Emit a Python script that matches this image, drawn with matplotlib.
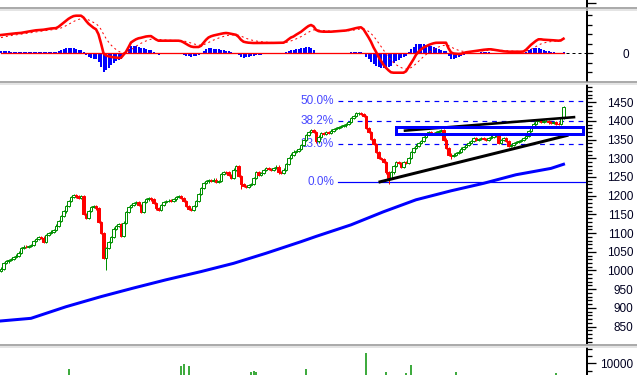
import numpy as np
import matplotlib
matplotlib.use('Agg')
import matplotlib.pyplot as plt
from matplotlib.patches import Rectangle
from matplotlib.lines import Line2D
from matplotlib.ticker import MultipleLocator, FixedLocator

plt.rcParams['font.family'] = ['Liberation Sans', 'DejaVu Sans']

# daily closes (one per candle)
close = [1005, 1020, 1024, 1027, 1030, 1035, 1040, 1048, 1060, 1064,
         1062, 1066, 1068, 1078, 1084, 1090, 1088, 1077, 1094, 1100,
         1104, 1108, 1120, 1133, 1146, 1158, 1172, 1186, 1196, 1202,
         1198, 1194, 1200, 1150, 1141, 1160, 1170, 1172, 1166, 1130,
         1100, 1034, 1060, 1077, 1090, 1112, 1118, 1125, 1092, 1128,
         1157, 1170, 1176, 1180, 1184, 1176, 1156, 1184, 1190, 1193,
         1190, 1180, 1166, 1162, 1176, 1184, 1185, 1187, 1186, 1190,
         1196, 1200, 1194, 1186, 1172, 1165, 1162, 1172, 1186, 1204,
         1220, 1234, 1238, 1242, 1240, 1243, 1236, 1240, 1258, 1264,
         1262, 1256, 1248, 1270, 1280, 1252, 1232, 1226, 1224, 1228,
         1232, 1248, 1262, 1256, 1260, 1269, 1274, 1272, 1268, 1274,
         1278, 1262, 1260, 1270, 1284, 1300, 1310, 1318, 1320, 1324,
         1336, 1348, 1362, 1370, 1376, 1370, 1345, 1358, 1368, 1366,
         1370, 1368, 1374, 1378, 1381, 1384, 1386, 1388, 1392, 1398,
         1408, 1414, 1420, 1421, 1418, 1414, 1380, 1370, 1352, 1338,
         1316, 1300, 1298, 1290, 1262, 1248, 1262, 1280, 1291, 1287,
         1278, 1291, 1288, 1300, 1316, 1328, 1334, 1340, 1347, 1356,
         1364, 1371, 1368, 1367, 1370, 1372, 1375, 1350, 1328, 1310,
         1306, 1310, 1314, 1318, 1326, 1331, 1336, 1342, 1347, 1353,
         1350, 1352, 1354, 1352, 1350, 1355, 1358, 1361, 1364, 1340,
         1348, 1354, 1346, 1332, 1335, 1340, 1344, 1347, 1349, 1354,
         1360, 1372, 1384, 1393, 1400, 1402, 1398, 1399, 1400, 1396,
         1394, 1396, 1393, 1391, 1408, 1438]
first_open = 998

# a few long lower shadows
wick_days = [42, 96, 155, 180]
wick_lows = [1001, 1218, 1230, 1298]

# MACD line (one per candle)
macd = [18.3, 18.6, 18.9, 19.2, 19.5, 19.8, 20.0, 20.2, 20.4, 20.8,
        21.3, 21.8, 22.2, 22.6, 23.0, 23.2, 23.4, 23.6, 24.0, 24.4,
        24.8, 25.0, 25.2, 26.5, 28.5, 30.5, 32.5, 34.5, 36.0, 37.2,
        37.6, 37.6, 37.6, 35.8, 32.5, 29.6, 27.5, 25.5, 24.0, 19.0,
        10.0, 0.0, -2.0, -3.0, -3.6, -4.0, -4.3, -4.6, -4.5, -1.5,
        1.5, 6.0, 10.8, 12.5, 14.0, 15.0, 15.5, 16.2, 16.8, 17.1,
        17.2, 15.5, 13.8, 12.6, 12.6, 12.6, 12.6, 12.6, 12.6, 12.6,
        12.6, 12.6, 12.2, 11.0, 9.5, 8.0, 6.8, 6.3, 6.3, 6.3,
        7.5, 10.5, 13.5, 15.8, 17.0, 17.8, 18.4, 19.0, 19.5, 20.0,
        20.3, 20.0, 19.5, 19.0, 18.5, 16.5, 13.5, 11.6, 11.0, 10.6,
        10.4, 10.3, 10.3, 10.3, 10.3, 10.3, 10.3, 10.3, 10.4, 10.4,
        10.5, 10.5, 10.5, 10.6, 12.0, 14.0, 15.8, 16.8, 18.5, 20.0,
        21.5, 23.5, 25.5, 27.3, 28.3, 27.0, 23.5, 22.2, 21.8, 21.6,
        21.6, 21.6, 21.6, 21.8, 22.0, 22.2, 22.4, 22.6, 22.8, 23.3,
        23.9, 24.6, 25.2, 25.7, 26.0, 24.0, 20.0, 16.0, 11.5, 6.0,
        1.5, -3.5, -7.5, -11.5, -14.5, -17.0, -19.0, -19.4, -19.4, -19.4,
        -19.4, -19.4, -18.0, -14.0, -10.0, -6.0, -1.5, 1.5, 3.8, 5.8,
        7.0, 8.2, 9.2, 10.0, 10.5, 10.6, 10.6, 10.6, 10.6, 5.0,
        1.0, -0.2, -0.5, -0.7, -0.5, 0.3, 1.0, 1.4, 1.7, 2.0,
        2.4, 2.8, 3.2, 3.5, 3.8, 4.0, 4.0, 3.6, 3.2, 2.8,
        2.4, 2.0, 1.8, 1.6, 1.6, 1.6, 1.6, 1.6, 1.6, 1.8,
        3.5, 6.0, 8.5, 10.5, 12.5, 14.0, 14.0, 13.6, 13.4, 13.3,
        13.2, 13.0, 12.8, 12.6, 13.0, 14.6]
signal_seed = 15

# 200 day moving average, read at a few days
ma_days = [0, 12, 26, 40, 53, 66, 80, 93, 106, 120, 126, 140, 153, 166, 180, 193, 206, 220, 225]
ma200 = [865, 872, 903, 930, 953, 975, 997, 1019, 1046, 1077, 1091, 1122, 1157, 1189, 1213, 1233, 1256, 1273, 1284]

# only the tallest volume bars reach into the visible strip
vol_days = [27, 72, 73, 75, 100, 101, 102, 122, 146, 154, 162, 164, 182, 222]
volume = [9290, 9700, 9870, 9600, 8800, 8950, 8800, 9200, 11470, 8800, 8700, 9730, 8800, 8700]

fib_labels = ['50.0%', '38.2%', '23.6%', '0.0%']
fib_levels = [1452, 1401, 1338, 1237]

W, H = 637, 375
fig = plt.figure(figsize=(W / 100, H / 100), dpi=100)
px = 0.72  # one pixel in points
right = 587 / W
xlim = (-0.4, 234.4)
txt_col = '#000020'


def panel(top, bottom):
    ax = fig.add_axes([0, 1 - bottom / H, right, (bottom - top) / H])
    for s in ['left', 'top', 'bottom']:
        ax.spines[s].set_visible(False)
    ax.spines['right'].set_linewidth(2 * px)
    ax.set_xlim(*xlim)
    ax.set_xticks([])
    ax.yaxis.tick_right()
    ax.tick_params(axis='y', which='major', length=9 * px, width=1.3 * px,
                   labelsize=8.5, labelcolor=txt_col, pad=27)
    ax.tick_params(axis='y', which='minor', length=4.5 * px, width=1.3 * px)
    return ax


def right_align(ax):
    for lab in ax.get_yticklabels():
        lab.set_horizontalalignment('right')


# separators between panels
for y in [8, 82, 345]:
    fig.add_artist(Line2D([0, 1], [1 - y / H] * 2, color='#909090', lw=1.5 * px))
    fig.add_artist(Line2D([0, 1], [1 - (y + 1.5) / H] * 2, color='#dcdcdc', lw=1.5 * px))

# sliver of the panel above
ax0 = panel(0, 7)
ax0.set_ylim(0, 1)
ax0.set_yticks([0.55])
ax0.set_yticklabels([])

# ---- MACD ----
def ema(x, n, seed):
    a = 2 / (n + 1)
    out = np.empty_like(x)
    prev = seed
    for k, v in enumerate(x):
        prev = prev + a * (v - prev)
        out[k] = prev
    return out


m = np.array(macd, float)
signal = ema(m, 9, signal_seed)
hist = m - signal
days = np.arange(len(close))

ax1 = panel(10, 81)
ax1.set_ylim(-27.7, 43.3)
ax1.bar(days, hist, width=0.8, color='#0000ff', linewidth=0)
ax1.plot([0, days[-1]], [0, 0], color='#ff0000', lw=1.3 * px)
ax1.plot([days[-1] + 1, 237.5], [0, 0], color='black', lw=1 * px,
         ls=(0, (3, 3)), clip_on=False)
ax1.plot(days, signal, color='#ff0000', lw=1 * px, ls=(0, (2, 3)))
ax1.plot(days, m, color='#ff0000', lw=2.6 * px)
ax1.yaxis.set_major_locator(FixedLocator([0]))
ax1.yaxis.set_minor_locator(MultipleLocator(9.5))
ax1.tick_params(axis='y', which='major', length=4.5 * px)
ax1.set_yticklabels(['0'])
right_align(ax1)

# ---- price ----
ax2 = panel(85, 343)
ax2.set_ylim(806, 1496)
opens = [first_open] + close[:-1]
for i, (o, cl) in enumerate(zip(opens, close)):
    up = cl >= o
    col = '#009000' if up else '#ff0000'
    lo, hi = min(o, cl), max(o, cl)
    low = wick_lows[wick_days.index(i)] if i in wick_days else lo - 3
    ax2.vlines(i, low, hi + 3, color=col, lw=1 * px, zorder=3)
    ax2.bar(i, max(hi - lo, 1.5), bottom=lo, width=1.0,
            facecolor='white' if up else col, edgecolor=col,
            linewidth=1 * px, zorder=4)

ax2.plot(ma_days, ma200, color='#0000ff', lw=3 * px, zorder=2)

fib_x0 = 134.8
for lab, lev in zip(fib_labels, fib_levels):
    ls = '-' if lev == fib_levels[-1] else (0, (4, 4))
    ax2.plot([fib_x0, xlim[1]], [lev, lev], color='#0000ff', lw=1.2 * px, ls=ls, zorder=1)
    ax2.text(fib_x0 - 1.6, lev, lab, ha='right', va='center', fontsize=8.5,
             color='#4848ff', zorder=2)

ax2.add_patch(Rectangle((158, 1365), 74.8, 20, fill=False, edgecolor='#0000ff',
                        lw=3 * px, zorder=6))
ax2.plot([151.6, 226.4], [1237, 1361], color='black', lw=3 * px, zorder=5)
ax2.plot([161.6, 229.2], [1374, 1410], color='black', lw=2.6 * px, zorder=5)

ax2.yaxis.set_minor_locator(MultipleLocator(10))
ax2.set_yticks(list(range(850, 1451, 50)))
right_align(ax2)

# ---- volume ----
ax3 = panel(348, 375)
ax3.set_ylim(8400, 12130)
ax3.vlines(vol_days, 8000, volume, color='#009000', lw=1.5 * px)
ax3.set_yticks([10000])
ax3.yaxis.set_minor_locator(MultipleLocator(1000))
right_align(ax3)

fig.savefig('out.png', dpi=100)
